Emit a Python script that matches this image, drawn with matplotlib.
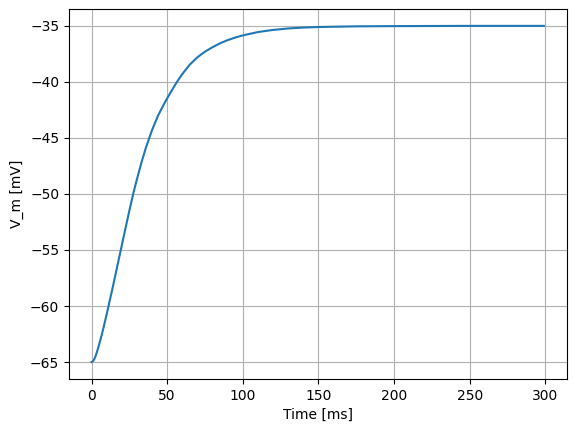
import matplotlib
matplotlib.use('Agg')
import matplotlib.pyplot as plt

# membrane potential
time_ms = [0, 1, 2, 3, 4, 5, 6, 7, 8, 10, 12, 14, 16, 18, 20, 22, 25, 28,
           30, 33, 36, 40, 44, 48, 52, 56, 60, 65, 70, 75, 80, 85, 90,
           95, 100, 110, 120, 130, 140, 150, 175, 200, 250, 299]
v_m = [-65.0, -64.92, -64.7, -64.35, -63.92, -63.45, -62.95, -62.45, -61.9,
       -60.75, -59.55, -58.35, -57.1, -55.85, -54.6, -53.35, -51.5, -49.75,
       -48.7, -47.2, -45.85, -44.3, -43.0, -41.95, -41.0, -40.1, -39.3,
       -38.45, -37.8, -37.3, -36.9, -36.55, -36.27, -36.04, -35.85, -35.55,
       -35.36, -35.23, -35.15, -35.1, -35.04, -35.02, -35.0, -35.0]

fig, ax = plt.subplots(figsize=(5.74, 4.32), dpi=100)
fig.subplots_adjust(left=0.120, right=0.987, top=0.979, bottom=0.123)

ax.plot(time_ms, v_m)
ax.set_xlabel('Time [ms]')
ax.set_ylabel('V_m [mV]')
ax.grid(True)

fig.savefig('out.png')
